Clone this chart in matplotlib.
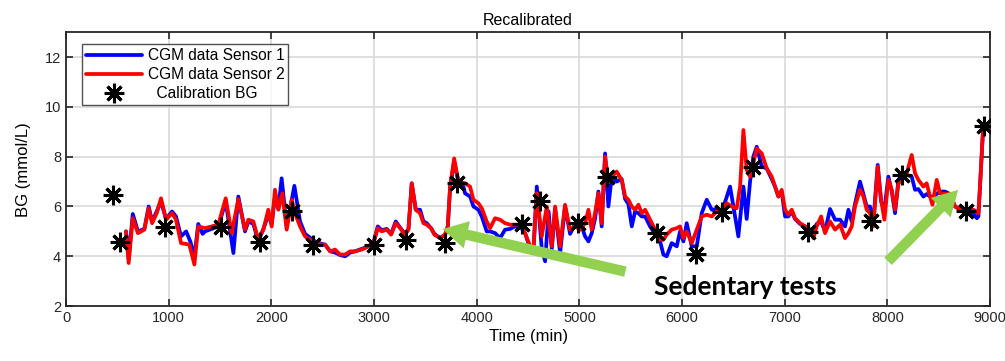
import matplotlib
matplotlib.use("Agg")
import matplotlib.pyplot as plt
from matplotlib.patches import FancyArrowPatch

plt.rcParams['font.family'] = ['Liberation Sans', 'DejaVu Sans']

# ---- data ----
t_sensor1 = [584, 610, 650, 700, 763, 805, 838, 883, 925, 974, 1032, 1071, 1120, 1170, 1210, 1250,
             1288, 1330, 1353, 1418, 1483, 1555, 1630, 1678, 1743, 1776, 1824, 1873, 1922, 1970,
             2003, 2035, 2068, 2100, 2149, 2224, 2279, 2328, 2425, 2490, 2523, 2572, 2620, 2669,
             2718, 2767, 2815, 2880, 2945, 2994, 3036, 3075, 3124, 3166, 3211, 3254, 3302, 3335,
             3367, 3406, 3448, 3481, 3513, 3555, 3588, 3643, 3692, 3718, 3741, 3780, 3821, 3870,
             3886, 3935, 3968, 4016, 4049, 4097, 4130, 4179, 4227, 4276, 4325, 4373, 4422, 4471,
             4520, 4552, 4585, 4633, 4666, 4700, 4731, 4763, 4812, 4860, 4909, 4958, 5006, 5055,
             5088, 5120, 5152, 5185, 5217, 5250, 5282, 5315, 5363, 5412, 5445, 5477, 5510, 5542,
             5575, 5607, 5640, 5688, 5737, 5786, 5818, 5850, 5899, 5948, 5980, 6013, 6045, 6094,
             6143, 6191, 6240, 6289, 6338, 6370, 6420, 6467, 6500, 6548, 6597, 6629, 6662, 6694,
             6727, 6776, 6824, 6873, 6905, 6938, 6970, 7003, 7035, 7068, 7100, 7149, 7198, 7246,
             7279, 7311, 7354, 7392, 7441, 7490, 7539, 7587, 7620, 7652, 7684, 7733, 7766, 7798,
             7830, 7863, 7905, 7938, 7970, 8009, 8042, 8074, 8107, 8139, 8188, 8236, 8269, 8301,
             8350, 8382, 8415, 8450, 8512, 8560, 8610, 8658, 8707, 8772, 8837, 8870, 8886, 8912, 8934]
bg_sensor1 = [5.0, 3.9, 5.7, 5.0, 5.1, 6.0, 5.4, 5.8, 6.2, 5.5, 5.8, 5.6, 4.8, 5.0, 4.6, 4.0,
              5.3, 4.9, 5.0, 5.1, 5.2, 6.2, 4.13, 6.4, 5.0, 5.4, 5.3, 4.6, 5.1, 5.67,
              5.3, 6.4, 5.9, 7.13, 5.2, 6.83, 5.4, 4.9, 4.6, 4.5, 4.47, 4.2, 4.15, 4.05,
              4.0, 4.15, 4.2, 4.3, 4.4, 4.55, 5.2, 5.05, 5.1, 4.9, 5.4, 5.15, 4.9, 5.1,
              6.93, 5.87, 5.87, 5.4, 5.33, 5.13, 4.9, 4.73, 4.87, 5.2, 6.8, 7.8, 7.0, 6.8,
              6.53, 6.4, 6.0, 5.87, 5.6, 5.0, 5.0, 4.93, 4.73, 5.07, 5.1, 5.2, 5.2, 4.93,
              4.3, 4.2, 6.8, 4.3, 3.8, 5.8, 4.3, 5.9, 4.13, 6.0, 4.9, 5.3, 5.4, 4.8,
              4.6, 4.93, 5.5, 6.6, 5.2, 8.13, 6.0, 7.2, 7.0, 7.1, 6.3, 6.1, 5.2, 5.8,
              5.73, 5.6, 5.6, 5.2, 4.9, 4.6, 4.07, 4.0, 4.53, 4.4, 5.0, 4.6, 5.33, 4.4,
              4.4, 5.73, 6.27, 5.87, 5.9, 5.7, 6.2, 6.8, 6.0, 4.8, 6.8, 5.5, 7.0, 8.0,
              8.4, 7.6, 7.53, 7.1, 6.8, 6.4, 6.6, 5.6, 5.6, 5.8, 5.5, 5.3, 5.2, 5.07,
              5.0, 5.3, 5.4, 5.0, 5.9, 5.47, 5.47, 5.2, 5.87, 5.4, 6.1, 7.0, 6.5, 6.0,
              6.0, 5.4, 7.67, 6.2, 5.87, 7.2, 6.6, 5.73, 7.07, 7.2, 7.27, 7.2, 6.67, 6.7,
              6.4, 6.5, 6.4, 6.4, 6.6, 6.6, 6.5, 6.0, 5.9, 5.87, 5.73, 5.53, 5.6, 7.6, 9.33]

t_sensor2 = [584, 610, 650, 700, 763, 805, 838, 883, 925, 974, 1032, 1071, 1120, 1201, 1250, 1288,
             1353, 1418, 1483, 1555, 1613, 1678, 1743, 1776, 1824, 1873, 1922, 1970, 2003, 2035,
             2068, 2107, 2149, 2198, 2230, 2279, 2328, 2425, 2490, 2523, 2572, 2620, 2669, 2718,
             2767, 2815, 2880, 2945, 2994, 3036, 3075, 3124, 3166, 3211, 3254, 3302, 3335, 3367,
             3406, 3448, 3481, 3513, 3555, 3588, 3643, 3692, 3718, 3741, 3780, 3821, 3886, 3935,
             3968, 4016, 4049, 4097, 4130, 4179, 4227, 4276, 4325, 4373, 4422, 4471, 4520, 4552,
             4585, 4633, 4682, 4731, 4763, 4812, 4860, 4909, 4958, 5006, 5055, 5088, 5120, 5152,
             5185, 5217, 5250, 5282, 5315, 5363, 5412, 5445, 5477, 5510, 5542, 5575, 5607, 5640,
             5688, 5737, 5786, 5818, 5850, 5899, 5948, 5980, 6013, 6045, 6094, 6143, 6191, 6240,
             6289, 6338, 6370, 6435, 6483, 6532, 6565, 6597, 6629, 6662, 6694, 6727, 6776, 6824,
             6873, 6905, 6938, 6970, 7003, 7035, 7068, 7100, 7149, 7198, 7246, 7279, 7311, 7354,
             7392, 7441, 7490, 7539, 7587, 7620, 7652, 7684, 7733, 7766, 7798, 7830, 7863, 7905,
             7938, 7970, 8009, 8042, 8074, 8107, 8139, 8188, 8236, 8269, 8301, 8350, 8382, 8415,
             8438, 8480, 8512, 8560, 8610, 8658, 8707, 8772, 8837, 8886, 8912, 8934]
bg_sensor2 = [5.0, 3.73, 5.53, 4.93, 5.07, 5.93, 5.33, 5.73, 6.33, 5.47, 5.73, 5.47, 4.53, 4.47, 3.67, 5.2,
              5.13, 5.2, 5.27, 6.33, 4.93, 6.29, 5.07, 5.47, 5.4, 4.67, 5.07, 5.87, 5.2, 6.67,
              5.87, 6.53, 5.07, 6.27, 5.73, 5.2, 4.8, 4.53, 4.47, 4.47, 4.2, 4.27, 4.07, 4.07,
              4.2, 4.2, 4.27, 4.4, 4.53, 5.13, 5.0, 5.07, 4.87, 5.33, 5.13, 4.87, 5.07, 6.93,
              5.87, 5.73, 5.33, 5.27, 5.13, 4.87, 4.73, 4.87, 5.2, 6.8, 7.93, 7.0, 6.93, 6.8,
              6.27, 6.13, 5.93, 5.4, 5.13, 5.53, 5.47, 5.33, 5.27, 5.27, 5.27, 4.93, 4.4, 4.27,
              6.53, 4.8, 6.0, 4.4, 6.0, 4.4, 6.07, 5.07, 5.2, 5.07, 5.33, 5.87, 5.07, 5.73,
              6.53, 5.33, 8.0, 7.0, 7.2, 7.4, 7.07, 6.4, 6.27, 6.0, 5.87, 6.07, 5.73, 5.87,
              5.47, 5.07, 4.67, 4.67, 4.87, 5.07, 5.13, 5.2, 4.73, 5.0, 4.53, 5.07, 5.6, 5.67,
              5.6, 5.8, 5.73, 6.13, 6.0, 5.93, 6.8, 9.07, 7.47, 7.2, 7.73, 8.33, 8.13, 7.53,
              7.2, 6.8, 6.4, 6.67, 5.87, 5.67, 5.87, 5.53, 5.33, 5.2, 5.07, 4.73, 5.2, 5.6,
              4.93, 5.4, 5.07, 5.27, 4.73, 4.93, 5.2, 6.0, 6.67, 6.4, 5.87, 5.73, 5.2, 7.6,
              6.27, 5.47, 7.07, 6.67, 5.87, 6.93, 7.07, 7.33, 8.07, 7.33, 7.07, 6.8, 6.93, 6.4,
              6.07, 7.07, 6.53, 6.5, 6.5, 6.0, 5.87, 5.87, 5.87, 5.73, 7.6, 9.33]

t_calib = [460, 530, 960, 1510, 1885, 2200, 2410, 2995, 3315, 3692, 3810, 4438, 4617, 4984,
           5266, 5753, 6136, 6386, 6694, 7224, 7840, 8145, 8762, 8944]
bg_calib = [6.47, 4.56, 5.17, 5.17, 4.56, 5.8, 4.47, 4.47, 4.67, 4.53, 6.93, 5.29, 6.24, 5.33,
            7.2, 4.93, 4.1, 5.76, 7.6, 4.96, 5.4, 7.27, 5.8, 9.23]

legend_labels = ["CGM data Sensor 1", "CGM data Sensor 2", "  Calibration BG"]
x_ticks = [0, 1000, 2000, 3000, 4000, 5000, 6000, 7000, 8000, 9000]
y_ticks = [2, 4, 6, 8, 10, 12]

# ---- figure ----
fig = plt.figure(figsize=(10.05, 3.61), dpi=100)
ax = fig.add_axes([0.0657, 0.152, 0.9195, 0.759])

ax.plot(t_sensor1, bg_sensor1, color='#0000ff', lw=2.7, label=legend_labels[0], zorder=3,
        solid_joinstyle='round', solid_capstyle='round')
ax.plot(t_sensor2, bg_sensor2, color='#ff0000', lw=2.7, label=legend_labels[1], zorder=4,
        solid_joinstyle='round', solid_capstyle='round')
ax.plot(t_calib, bg_calib, ls='none', marker=(8, 2, 0), ms=14, mew=2.2, color='black',
        label=legend_labels[2], zorder=5)

ax.set_xlim(0, 9000)
ax.set_ylim(2, 13)
ax.set_xticks(x_ticks)
ax.set_yticks(y_ticks)
ax.grid(True, color='#d9d9d9', lw=1.2)
ax.set_axisbelow(True)
ax.tick_params(direction='in', top=True, right=True, length=5, width=1.2,
               labelsize=10.5, colors='#262626')
for s in ax.spines.values():
    s.set_color('#262626')
    s.set_linewidth(1.3)

ax.set_title("Recalibrated", fontsize=11.5, pad=5)
ax.set_xlabel("Time (min)", fontsize=12, labelpad=3)
ax.set_ylabel("BG (mmol/L)", fontsize=12, labelpad=10)

leg = ax.legend(loc='upper left', bbox_to_anchor=(0.017, 0.955), fontsize=11.2,
                frameon=True, fancybox=False, edgecolor='#262626', handlelength=3.6,
                borderpad=0.25, labelspacing=0.25, handletextpad=0.4, borderaxespad=0)
leg.get_frame().set_linewidth(1.0)

# green arrows
arrow_col = '#92d050'
for tail, head in [((5474, 3.36), (3640, 5.12)), ((7987, 3.72), (8708, 6.75))]:
    ar = FancyArrowPatch(tail, head, arrowstyle='simple,head_width=2.0,head_length=1.8,tail_width=0.75',
                         mutation_scale=10, color=arrow_col, lw=0, zorder=6)
    ax.add_patch(ar)

ax.text(6613, 2.78, "Sedentary tests", family=['Lato', 'DejaVu Sans'], fontweight='bold',
        fontsize=19, ha='center', va='center', color='black', zorder=7)

fig.savefig("out.png", dpi=100)
